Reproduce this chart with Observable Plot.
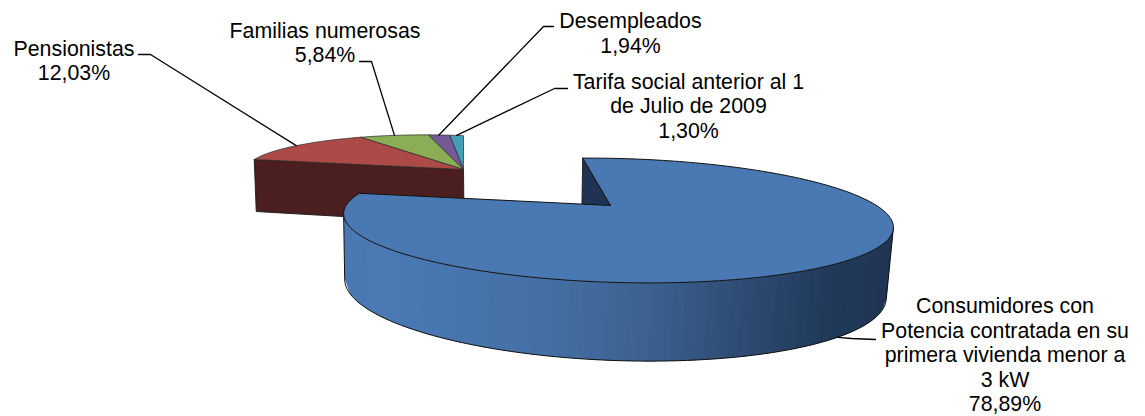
<!DOCTYPE html>
<html>
<head>
<meta charset="utf-8">
<style>html,body{margin:0;padding:0;background:#fff;overflow:hidden}svg{display:block}</style>
<script src="https://cdn.jsdelivr.net/npm/d3@7"></script>
<script src="https://cdn.jsdelivr.net/npm/@observablehq/plot@0.6"></script>
</head>
<body>
<div id="chart"></div>
<script>
// ---- data ----
const categories = [
  "Consumidores con\nPotencia contratada en su\nprimera vivienda menor a\n3 kW",
  "Pensionistas",
  "Familias numerosas",
  "Desempleados",
  "Tarifa social anterior al 1\nde Julio de 2009"
];
const values = [78.89, 12.03, 5.84, 1.94, 1.30];
const colors = ["#4a78b2", "#ab4a47", "#8bad55", "#735a96", "#429db8"];

// ---- layout (not data) ----
const labelPos = [[1004.5, 354], [73.5, 59.5], [324.5, 41.5], [630, 32], [688, 105]];
const leaderStart = [[[875, 339], [851, 338]], [[138, 54], [150, 54]], [[359, 61], [371, 61]], [[553, 26], [543, 26]], [[567, 88], [554, 88]]];
const deg = Math.PI / 180;

// Blue slice: disc angles projected on a tilted ellipse with the apex pulled off centre
const big = {cx: 618, cy: 220, a: 275, b: 62, rot: 1.5 * deg, px: -0.0305, py: -0.239, start: -0.7};
function onEllipse(e, t) {
  const X = e.a * Math.cos(t), Y = e.b * Math.sin(t);
  return {x: e.cx + X * Math.cos(e.rot) - Y * Math.sin(e.rot), y: e.cy + X * Math.sin(e.rot) + Y * Math.cos(e.rot)};
}
function bigPoint(share, r = 1) {
  const th = (big.start + share * 3.6) * deg;
  const s = Math.hypot(big.px, big.py), dx = big.px / s, dy = big.py / s;
  const x = r * Math.cos(th), y = r * Math.sin(th);
  const w = 1 + s * x, p = (x + s) / w, q = y * Math.sqrt(1 - s * s) / w;
  const nx = p * dx - q * dy, ny = p * dy + q * dx;
  const X = big.a * nx, Y = big.b * ny;
  return {x: big.cx + X * Math.cos(big.rot) - Y * Math.sin(big.rot), y: big.cy + X * Math.sin(big.rot) + Y * Math.cos(big.rot)};
}
const bigApex = bigPoint(0, 0);
const bigBase = {cx: 615, cy: 288, a: 271, b: 72, rot: 2.1 * deg};

// Exploded group: same angles, its own projection
const grp = {x: 463, y: 169, lx: -166.7, ly: 0.5, uy: -33.8, k: -0.234};
function grpPoint(share) {
  const th = share * 3.6 * deg, l = Math.sin(th), u = Math.cos(th), w = 1 + grp.k * l;
  return {x: grp.x + grp.lx * l / w, y: grp.y + (grp.uy * u + grp.ly * l) / w};
}
const grpApex = {x: grp.x, y: grp.y};

function arc(fn, a, b) {
  const n = Math.max(2, Math.ceil(Math.abs(b - a) * 2.5));
  return d3.range(n + 1).map(i => fn(a + (b - a) * i / n));
}
const close = pts => [...pts, pts[0]];
const thin = {stroke: "#1a1a1a", strokeWidth: 0.9, strokeLinejoin: "round"};
const poly = (pts, fill, o = thin) => Plot.line(close(pts), {x: "x", y: "y", fill, curve: "linear", ...o});

// small slices run counter-clockwise from the edge shared with the big slice
const groupShares = values.slice(1).reverse();
const groupCats = [4, 3, 2, 1];
let cum = 0;
const groupSlices = groupShares.map((v, i) => {
  const a = cum, b = cum + v; cum = b;
  return {a, b, mid: (a + b) / 2, i: groupCats[i]};
});
const grpEnd = grpPoint(cum);
const grpWall = [grpEnd, grpApex, {x: grp.x + 0.5, y: grp.y + 54}, {x: grpEnd.x + 2, y: grpEnd.y + 52}];

const bigOuter = bigPoint(0);
const bigWall = [bigOuter, bigApex, {x: bigApex.x, y: bigApex.y + 60}, {x: bigOuter.x - 1, y: bigOuter.y + 60}];
const bigTop = [bigApex, ...arc(bigPoint, 0, values[0])];

// shaded side: bands from the left tangent to the right tangent; each overlaps the next to avoid seams
const stopColor = d3.scaleLinear()
  .domain([0, 0.08, 0.35, 0.55, 0.72, 0.88, 1])
  .range(["#4a78b2", "#4a79b4", "#4570a6", "#3d6291", "#2f4d74", "#213a5a", "#1f3452"])
  .interpolate(d3.interpolateRgb);
const bands = 48;
const sideBands = d3.range(bands).flatMap(i => {
  const f0 = i / bands, f1 = Math.min(1, (i + 2) / bands);
  const t = f => Math.PI - Math.acos(1 - 2 * f); // left to right along the front
  const c = stopColor((i + 0.5) / bands);
  const ring = [
    ...d3.range(5).map(k => onEllipse(big, t(f0 + (f1 - f0) * k / 4))),
    ...d3.range(4, -1, -1).map(k => onEllipse(bigBase, t(f0 + (f1 - f0) * k / 4)))
  ];
  return ring.map(p => ({...p, band: i, c}));
});
const baseEdge = d3.range(0, 181, 2).map(d => onEllipse(bigBase, d * deg));
const sideOutline = [onEllipse(big, 0), ...baseEdge, onEllipse(big, Math.PI)];

// labels
const fmt = v => v.toFixed(2).replace(".", ",") + "%";
const labels = categories.map((c, i) => ({x: labelPos[i][0], y: labelPos[i][1], text: c + "\n" + fmt(values[i])}));

// leaders end on the mid-point of each slice's arc
const leaders = categories.map((c, i) => {
  const gs = groupSlices.find(g => g.i === i);
  const end = gs ? grpPoint(gs.mid) : onEllipse(bigBase, 0.6);
  return [...leaderStart[i].map(([x, y]) => ({x, y})), end].map(p => ({...p, id: i}));
}).flat();

const chart = Plot.plot({
  width: 1145, height: 416,
  margin: 0,
  x: {domain: [0, 1145], range: [0, 1145], axis: null},
  y: {domain: [0, 416], range: [0, 416], axis: null},
  color: {type: "identity"},
  style: {background: "#fff"},
  marks: [
    poly(grpWall, "#4b1f1f"),
    ...groupSlices.map(s => poly([grpApex, ...arc(grpPoint, s.a, s.b)], colors[s.i], {stroke: "#2a2a2a", strokeWidth: 0.7})),
    poly(bigWall, "#1f3452"),
    Plot.line(sideBands, {x: "x", y: "y", z: "band", fill: "c", stroke: "none", curve: "linear"}),
    Plot.line(sideOutline, {x: "x", y: "y", stroke: "#111", strokeWidth: 1, curve: "linear"}),
    poly(bigTop, colors[0], {stroke: "#111", strokeWidth: 1}),
    Plot.line(leaders, {x: "x", y: "y", z: "id", stroke: "#000", strokeWidth: 1.3, curve: "linear"}),
    Plot.text(labels, {x: "x", y: "y", text: "text", fontSize: 21.33, fontFamily: "Liberation Sans", fill: "#000", lineHeight: 1.15, textAnchor: "middle"})
  ]
});
document.getElementById("chart").append(chart);
</script>
</body>
</html>
